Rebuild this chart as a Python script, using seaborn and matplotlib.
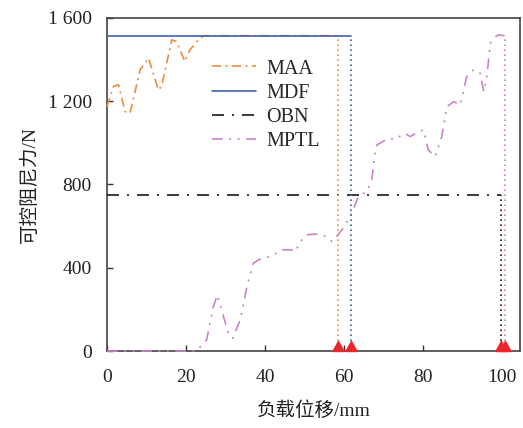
import numpy as np
import pandas as pd
import matplotlib
matplotlib.use("Agg")
import matplotlib.pyplot as plt
import seaborn as sns

# ---- data ----
maa_x = [0, 1.6, 2.9, 4.6, 5.8, 8.4, 10.5, 13.0, 13.8, 16.4, 17.6, 19.7, 21.0, 23.1, 24.4, 30, 40, 50, 58.5]
maa_y = [1174, 1271, 1279, 1150, 1142, 1351, 1407, 1254, 1271, 1495, 1487, 1391, 1447, 1495, 1515, 1515, 1515, 1515, 1515]

mdf_x = [0, 61.8]
mdf_y = [1515, 1515]

obn_x = [0, 99.6]
obn_y = [750, 750]

mptl_x = [0, 10, 22.6, 25.2, 26.9, 27.9, 29.0, 30.7, 31.8, 33.7, 35.4, 37.0, 38.7, 41.3, 44.2, 46.7, 47.6,
          48.9, 50.5, 53.0, 55.6, 56.9, 58.1, 59.8, 61.9, 63.6, 65.7, 67.0, 67.8, 68.3, 71.2, 72.8, 75.4,
          76.7, 78.8, 80.1, 81.3, 83.0, 84.7, 86.0, 87.7, 89.4, 91.0, 92.7, 94.4, 95.3, 96.1, 97.0, 97.8,
          99.0, 100.6]
mptl_y = [0, 0, 0, 53, 213, 269, 197, 85, 61, 149, 309, 421, 442, 453, 486, 486, 477,
          526, 558, 562, 550, 526, 550, 590, 662, 742, 766, 822, 950, 990, 1022, 1017, 1046,
          1030, 1054, 1062, 966, 934, 1030, 1174, 1198, 1183, 1318, 1351, 1335, 1246, 1318, 1479, 1503,
          1519, 1515]

end_names = ["MAA", "MDF", "OBN", "MPTL"]
end_x = [58.5, 61.8, 99.6, 100.6]
end_y = [1515, 1515, 750, 1515]

y_ticks = [0, 400, 800, 1200, 1600]
y_tick_labels = ["0", "400", "800", "1 200", "1 600"]
x_ticks = [0, 20, 40, 60, 80, 100]

colors = {"MAA": "#f08a3c", "MDF": "#3d63ab", "OBN": "#1a1a1a", "MPTL": "#c984c9"}
dashes = {"MAA": (5.4, 2.7, 1.2, 2.7), "MDF": "", "OBN": (7.2, 4.8, 1.2, 4.8),
          "MPTL": (6.4, 3.9, 1.2, 3.9, 1.2, 3.9)}

df = pd.concat([
    pd.DataFrame({"x": maa_x, "y": maa_y, "series": "MAA"}),
    pd.DataFrame({"x": mdf_x, "y": mdf_y, "series": "MDF"}),
    pd.DataFrame({"x": obn_x, "y": obn_y, "series": "OBN"}),
    pd.DataFrame({"x": mptl_x, "y": mptl_y, "series": "MPTL"}),
], ignore_index=True)

sns.set_theme(style="white")
plt.rcParams["font.family"] = ["Liberation Serif", "Noto Sans CJK SC", "DejaVu Sans"]
plt.rcParams["font.size"] = 14

fig = plt.figure(figsize=(5.23, 4.28), dpi=100)
ax = fig.add_axes([0.2046, 0.1799, 0.7897, 0.7781])

sns.lineplot(data=df, x="x", y="y", hue="series", style="series",
             hue_order=end_names, style_order=end_names,
             palette=colors, dashes=dashes, linewidth=1.2, sort=False,
             estimator=None, ax=ax)
for ln in ax.get_lines():
    ln.set_zorder(3)
    ln.set_clip_on(False)

for name, xv, yv in zip(end_names, end_x, end_y):
    ax.vlines(xv, 0, yv, colors=colors[name], linestyles=(0, (1, 2)), linewidth=1.2, zorder=3)

tri = [(-1, 0), (1, 0), (0, 1.8), (-1, 0)]
ax.plot(end_x, [0] * len(end_x), linestyle="none", marker=tri, markersize=14.5,
        color="#e8262c", clip_on=False, zorder=5)

ax.set_xlim(0, 104.5)
ax.set_ylim(0, 1600)
ax.set_xticks(x_ticks)
ax.set_yticks(y_ticks)
ax.set_yticklabels(y_tick_labels)
ax.tick_params(direction="in", length=4, width=1, colors="#333333", labelcolor="#222222",
               labelsize=14, bottom=True, left=True)
ax.tick_params(axis="x", pad=13)
ax.tick_params(axis="y", pad=11)
for s in ax.spines.values():
    s.set_color("#444444")
    s.set_linewidth(1.2)

ax.set_xlabel("负载位移/mm", fontsize=14, color="#222222", labelpad=11)
ax.set_ylabel("可控阻尼力/N", fontsize=14, color="#222222", labelpad=6)

leg = ax.legend(loc="upper left", bbox_to_anchor=(0.21, 0.93), frameon=False,
                fontsize=14.5, handlelength=2.2, labelspacing=0.25, handletextpad=0.5)
for h in leg.get_lines():
    h.set_linewidth(1.2)

fig.savefig("out.png", dpi=100)
